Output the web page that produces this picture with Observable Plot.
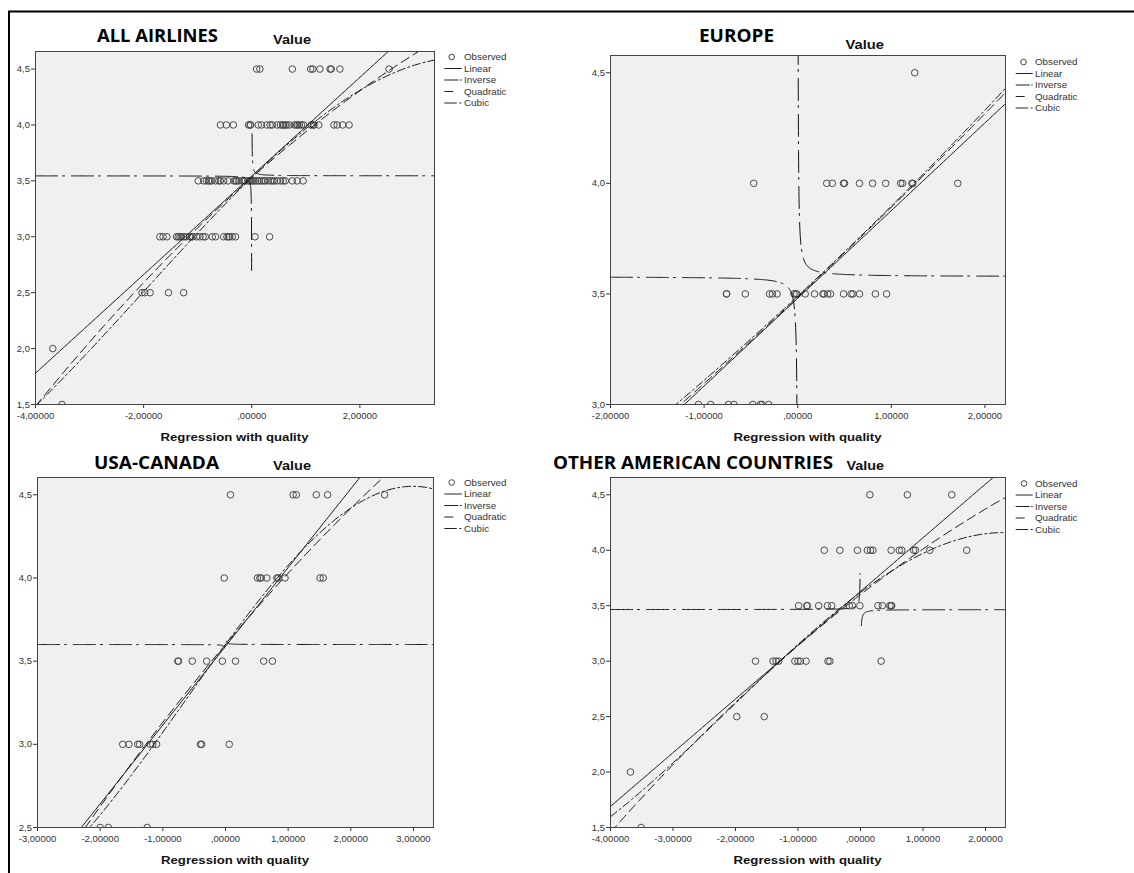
<!DOCTYPE html>
<html><head><meta charset="utf-8">
<script src="https://cdn.jsdelivr.net/npm/d3@7"></script>
<script src="https://cdn.jsdelivr.net/npm/@observablehq/plot@0.6"></script>
<style>
body{margin:0;background:#fff;}
#root{position:relative;width:1134px;height:873px;overflow:hidden;background:#fff;}
#root > svg{position:absolute;}
</style></head><body><div id="root"></div>
<script>
// ---------- DATA ----------
const panelNames = ["ALL AIRLINES", "EUROPE", "USA-CANADA", "OTHER AMERICAN COUNTRIES"];
const seriesNames = ["Observed", "Linear", "Inverse", "Quadratic", "Cubic"];
const yTitle = "Value";
const xTitle = "Regression with quality";

// observed points: [y value, x values]
const obsAll = [
  [4.5, [0.09, 0.15, 0.75, 1.09, 1.13, 1.26, 1.45, 1.47, 1.63, 2.54]],
  [4.0, [-0.58, -0.47, -0.34, -0.06, -0.03, -0.02, 0.12, 0.18, 0.28, 0.34, 0.38, 0.47, 0.53, 0.57, 0.59, 0.62, 0.65, 0.70, 0.79, 0.83, 0.85, 0.88, 0.92, 0.96, 1.10, 1.14, 1.15, 1.24, 1.52, 1.58, 1.68, 1.80]],
  [3.5, [-0.99, -0.89, -0.84, -0.80, -0.77, -0.74, -0.67, -0.61, -0.58, -0.52, -0.44, -0.33, -0.30, -0.28, -0.24, -0.18, -0.15, -0.12, -0.07, -0.04, -0.02, 0.01, 0.04, 0.07, 0.11, 0.14, 0.18, 0.22, 0.25, 0.30, 0.35, 0.39, 0.42, 0.47, 0.53, 0.58, 0.62, 0.75, 0.84, 0.95]],
  [3.0, [-1.70, -1.64, -1.57, -1.39, -1.36, -1.33, -1.30, -1.26, -1.21, -1.15, -1.12, -1.09, -1.02, -0.96, -0.90, -0.86, -0.73, -0.67, -0.52, -0.46, -0.43, -0.41, -0.36, -0.30, 0.06, 0.33]],
  [2.5, [-2.03, -1.98, -1.88, -1.54, -1.26]],
  [2.0, [-3.68]],
  [1.5, [-3.51]]
];
const obsEurope = [
  [4.5, [1.25]],
  [4.0, [-0.47, 0.31, 0.37, 0.49, 0.50, 0.66, 0.80, 0.94, 1.10, 1.12, 1.22, 1.23, 1.71]],
  [3.5, [-0.76, -0.76, -0.56, -0.30, -0.27, -0.22, -0.04, -0.02, -0.01, 0.08, 0.18, 0.27, 0.28, 0.32, 0.35, 0.49, 0.57, 0.59, 0.66, 0.83, 0.95]],
  [3.0, [-1.06, -0.93, -0.74, -0.68, -0.48, -0.40, -0.38, -0.31]]
];
const obsUsa = [
  [4.5, [0.08, 1.08, 1.13, 1.45, 1.63, 2.54]],
  [4.0, [-0.02, 0.51, 0.55, 0.57, 0.66, 0.82, 0.84, 0.95, 1.51, 1.56]],
  [3.5, [-0.76, -0.75, -0.53, -0.30, -0.05, 0.16, 0.61, 0.75]],
  [3.0, [-1.64, -1.54, -1.40, -1.37, -1.20, -1.16, -1.10, -0.40, -0.38, 0.06]],
  [2.5, [-2.0, -1.87, -1.25]]
];
const obsOther = [
  [4.5, [0.15, 0.75, 1.46]],
  [4.0, [-0.58, -0.33, -0.05, 0.11, 0.16, 0.20, 0.49, 0.62, 0.66, 0.85, 0.88, 1.11, 1.70]],
  [3.5, [-0.99, -0.86, -0.85, -0.67, -0.53, -0.46, -0.18, -0.13, -0.01, 0.28, 0.35, 0.47, 0.49, 0.50]],
  [3.0, [-1.68, -1.40, -1.35, -1.31, -1.05, -1.00, -0.96, -0.87, -0.52, -0.49, 0.33]],
  [2.5, [-1.98, -1.54]],
  [2.0, [-3.68]],
  [1.5, [-3.51]]
];

// fitted model coefficients
const linearAll = [3.544, 0.441];
const inverseAll = [3.545, 0.002];
const inverseEndsAll = [2.70, 3.92];
const quadAll = [3.53, 0.429, -0.0206];
const cubicAll = [3.53, 0.47, -0.0302, -0.0050];

const linearEurope = [3.48, 0.3965];
const inverseEurope = [3.578, 0.005];
const inverseEndsEurope = [2.9, 4.8];
const quadEurope = [3.485, 0.3983, 0.00826];
const cubicEurope = [3.49, 0.3936, 0.0131, 0.00015];

const linearUsa = [3.589, 0.4734];
const inverseUsa = [3.60, 0.0003];
const inverseEndsUsa = [3.58, 3.62];
const quadUsa = [3.60, 0.448, -0.0195];
const cubicUsa = [3.60, 0.515, -0.0255, -0.0135];

const linearOther = [3.628, 0.4845];
const inverseOther = [3.465, -0.002];
const inverseEndsOther = [3.79, 3.32];
const quadOther = [3.60, 0.436, -0.025];
const cubicOther = [3.62, 0.42, -0.059, -0.0094];

// axes
const xDomainAll = [-4, 3.38], yDomainAll = [1.5, 4.657];
const xDomainEurope = [-2, 2.22], yDomainEurope = [3.0, 4.578];
const xDomainUsa = [-3, 3.32], yDomainUsa = [2.5, 4.604];
const xDomainOther = [-4, 2.32], yDomainOther = [1.5, 4.656];

const xTicksAll = [-4, -2, 0, 2];
const xTickLabelsAll = ["-4,00000", "-2,00000", ",00000", "2,00000"];
const xTicksEurope = [-2, -1, 0, 1, 2];
const xTickLabelsEurope = ["-2,00000", "-1,00000", ",00000", "1,00000", "2,00000"];
const xTicksUsa = [-3, -2, -1, 0, 1, 2, 3];
const xTickLabelsUsa = ["-3,00000", "-2,00000", "-1,00000", ",00000", "1,00000", "2,00000", "3,00000"];
const xTicksOther = [-4, -3, -2, -1, 0, 1, 2];
const xTickLabelsOther = ["-4,00000", "-3,00000", "-2,00000", "-1,00000", ",00000", "1,00000", "2,00000"];

const yTicksAll = [1.5, 2, 2.5, 3, 3.5, 4, 4.5];
const yTickLabelsAll = ["1,5", "2,0", "2,5", "3,0", "3,5", "4,0", "4,5"];
const yTicksEurope = [3, 3.5, 4, 4.5];
const yTickLabelsEurope = ["3,0", "3,5", "4,0", "4,5"];
const yTicksUsa = [2.5, 3, 3.5, 4, 4.5];
const yTickLabelsUsa = ["2,5", "3,0", "3,5", "4,0", "4,5"];
const yTicksOther = [1.5, 2, 2.5, 3, 3.5, 4, 4.5];
const yTickLabelsOther = ["1,5", "2,0", "2,5", "3,0", "3,5", "4,0", "4,5"];

// ---------- STYLE / LAYOUT ----------
const dashLinear = null;
const dashInverse = "22,5,2,7";
const dashQuad = "9,5";
const dashCubic = "8,3,2,3";

const layout = [
  {frame: {left: 35, top: 51, w: 399, h: 353}, title: {x: 97, y: 41.5, len: 121}, value: {x: 273, y: 44.3, len: 38}, xlab: {y: 440.5}, legend: {cx: 451.7, lx0: 444.3, lx1: 461.7, tx: 464, y0: 57}},
  {frame: {left: 610, top: 55, w: 395, h: 349}, title: {x: 699, y: 41.5, len: 75}, value: {x: 845.5, y: 48.8, len: 38.5}, xlab: {y: 440.5}, legend: {cx: 1023.5, lx0: 1015.7, lx1: 1032.7, tx: 1035, y0: 62}},
  {frame: {left: 37, top: 477, w: 396, h: 350}, title: {x: 94, y: 468.5, len: 125}, value: {x: 273, y: 470, len: 38}, xlab: {y: 864}, legend: {cx: 451.7, lx0: 444.3, lx1: 461.7, tx: 464, y0: 482.5}},
  {frame: {left: 610, top: 477, w: 395, h: 350}, title: {x: 553, y: 468.5, len: 280}, value: {x: 846.6, y: 470, len: 37.5}, xlab: {y: 864}, legend: {cx: 1024, lx0: 1015.7, lx1: 1032.7, tx: 1035, y0: 483.5}}
];

const panels = [
  {obs: obsAll, lin: linearAll, inv: inverseAll, invEnds: inverseEndsAll, quad: quadAll, cub: cubicAll, xd: xDomainAll, yd: yDomainAll, xt: xTicksAll, xl: xTickLabelsAll, yt: yTicksAll, yl: yTickLabelsAll},
  {obs: obsEurope, lin: linearEurope, inv: inverseEurope, invEnds: inverseEndsEurope, quad: quadEurope, cub: cubicEurope, xd: xDomainEurope, yd: yDomainEurope, xt: xTicksEurope, xl: xTickLabelsEurope, yt: yTicksEurope, yl: yTickLabelsEurope},
  {obs: obsUsa, lin: linearUsa, inv: inverseUsa, invEnds: inverseEndsUsa, quad: quadUsa, cub: cubicUsa, xd: xDomainUsa, yd: yDomainUsa, xt: xTicksUsa, xl: xTickLabelsUsa, yt: yTicksUsa, yl: yTickLabelsUsa},
  {obs: obsOther, lin: linearOther, inv: inverseOther, invEnds: inverseEndsOther, quad: quadOther, cub: cubicOther, xd: xDomainOther, yd: yDomainOther, xt: xTicksOther, xl: xTickLabelsOther, yt: yTicksOther, yl: yTickLabelsOther}
];

// ---------- HELPERS ----------
function poly(c, x) { let y = 0; for (let i = c.length - 1; i >= 0; i--) y = y * x + c[i]; return y; }
function polyPoints(c, dom, n = 300) {
  return d3.range(n + 1).map(i => { const x = dom[0] + (dom[1] - dom[0]) * i / n; return {x, y: poly(c, x)}; });
}
function branchXs(far, near) {
  const xs = new Set();
  const n = 200;
  for (let i = 0; i <= n; i++) xs.add(far + (near - far) * i / n);
  let v = near;
  while (Math.abs(v) < Math.abs(far)) { xs.add(v); v *= 1.08; }
  return [...xs].sort((p, q) => p - q);
}
function inversePoints(c, ends, dom) {
  const [b0, b1] = c;
  const xL = b1 / (ends[0] - b0), xR = b1 / (ends[1] - b0);
  const left = branchXs(dom[0], xL).map(x => ({x, y: b0 + b1 / x, branch: "L"}));
  const right = branchXs(dom[1], xR).map(x => ({x, y: b0 + b1 / x, branch: "R"}));
  return left.concat(right);
}

const root = document.getElementById("root");
const ML = 42, MR = 4, MT = 4, MB = 26;

panels.forEach((p, i) => {
  const f = layout[i].frame;
  const dots = p.obs.flatMap(([y, xs]) => xs.map(x => ({x, y})));
  const lineOpts = (dash) => ({x: "x", y: "y", stroke: "#111", strokeWidth: 1, strokeDasharray: dash, clip: true});
  const chart = Plot.plot({
    width: f.w + ML + MR,
    height: f.h + MT + MB,
    marginLeft: ML, marginRight: MR, marginTop: MT, marginBottom: MB,
    x: {domain: p.xd, ticks: p.xt, tickFormat: d => p.xl[p.xt.indexOf(d)], tickSize: 4, tickPadding: 3.5, label: null},
    y: {domain: p.yd, ticks: p.yt, tickFormat: d => p.yl[p.yt.indexOf(d)], tickSize: 4, tickPadding: 1.5, label: null},
    style: {fontFamily: "'Liberation Sans', Arial, sans-serif", fontSize: "9.5px", color: "#333", background: "transparent", overflow: "visible"},
    marks: [
      Plot.frame({fill: "#f0f0f0", stroke: "none"}),
      Plot.dot(dots, {x: "x", y: "y", r: 3.3, stroke: "#4a4a4a", strokeWidth: 1, fill: "none", clip: true}),
      Plot.line(polyPoints(p.lin, p.xd), lineOpts(dashLinear)),
      Plot.line(inversePoints(p.inv, p.invEnds, p.xd), {...lineOpts(dashInverse), z: "branch"}),
      Plot.line(polyPoints(p.quad, p.xd), lineOpts(dashQuad)),
      Plot.line(polyPoints(p.cub, p.xd), lineOpts(dashCubic)),
      Plot.frame({stroke: "#444", strokeWidth: 1})
    ]
  });
  chart.style.left = (f.left - ML) + "px";
  chart.style.top = (f.top - MT) + "px";
  root.appendChild(chart);
});

// ---------- OVERLAY: titles, labels, legends, border ----------
const svg = d3.select(root).append("svg")
  .attr("width", 1134).attr("height", 873)
  .style("left", "0px").style("top", "0px").style("pointer-events", "none");

svg.append("path").attr("d", "M9,873V11.5H1134").attr("fill", "none").attr("stroke", "#000").attr("stroke-width", 2);

const legendDash = [null, null, "14,1.5,2,10", "9,20", "12.5,2.5,2,10"];
layout.forEach((L, i) => {
  const f = L.frame;
  svg.append("text").text(panelNames[i])
    .attr("x", L.title.x).attr("y", L.title.y)
    .attr("textLength", L.title.len).attr("lengthAdjust", "spacingAndGlyphs")
    .attr("font-family", "'Open Sans', 'Liberation Sans', sans-serif").attr("font-weight", 700)
    .attr("font-size", 18.5).attr("fill", "#000");
  svg.append("text").text(yTitle)
    .attr("x", L.value.x).attr("y", L.value.y)
    .attr("textLength", L.value.len).attr("lengthAdjust", "spacingAndGlyphs")
    .attr("font-family", "'Liberation Sans', Arial, sans-serif").attr("font-weight", 700)
    .attr("font-size", 13.5).attr("fill", "#111");
  svg.append("text").text(xTitle)
    .attr("x", f.left + f.w / 2).attr("y", L.xlab.y).attr("text-anchor", "middle")
    .attr("textLength", 148).attr("lengthAdjust", "spacingAndGlyphs")
    .attr("font-family", "'Liberation Sans', Arial, sans-serif").attr("font-weight", 700)
    .attr("font-size", 11).attr("fill", "#111");
  const lg = L.legend;
  seriesNames.forEach((name, k) => {
    const y = lg.y0 + k * 11.5;
    if (k === 0) {
      svg.append("circle").attr("cx", lg.cx).attr("cy", y).attr("r", 2.8)
        .attr("fill", "none").attr("stroke", "#444").attr("stroke-width", 1);
    } else {
      const ln = svg.append("line").attr("x1", lg.lx0).attr("x2", lg.lx1).attr("y1", y).attr("y2", y)
        .attr("stroke", "#222").attr("stroke-width", 1);
      if (legendDash[k]) ln.attr("stroke-dasharray", legendDash[k]);
    }
    svg.append("text").text(name).attr("x", lg.tx).attr("y", y).attr("dy", "0.35em")
      .attr("font-family", "'Liberation Sans', Arial, sans-serif").attr("font-size", 9.8).attr("fill", "#333");
  });
});
</script></body></html>
